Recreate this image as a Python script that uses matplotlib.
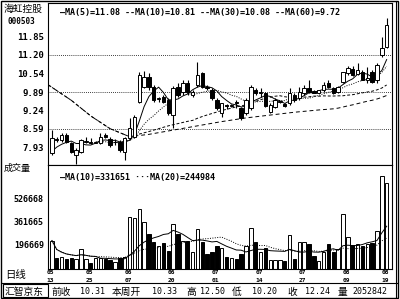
import matplotlib.pyplot as plt
import matplotlib.transforms as mtransforms
from matplotlib.patches import Rectangle
import numpy as np
import pandas as pd

plt.rcParams['font.family'] = ['DejaVu Sans Mono', 'Noto Sans CJK SC']

# daily candles 2011-05-13 .. 2011-08-19
opens = [7.76, 8.23, 8.21, 8.36, 8.11, 7.69, 7.79, 8.13, 8.12, 8.11,
         8.11, 8.36, 8.25, 8.12, 8.14, 7.79, 8.28, 8.32, 9.55, 10.08,
         10.43, 10.08, 9.66, 9.73, 9.62, 9.09, 10.08, 9.90, 10.22, 9.80,
         10.15, 10.57, 10.08, 9.97, 9.62, 9.16, 9.44, 9.41, 9.55, 9.34,
         9.16, 9.34, 9.97, 9.86, 9.87, 9.20, 9.37, 9.54, 9.48, 9.51,
         9.80, 9.69, 9.87, 10.04, 9.94, 9.87, 9.97, 10.22, 10.04, 9.90,
         10.25, 10.57, 10.71, 10.53, 10.60, 10.33, 10.60, 10.33, 11.20, 11.48]
highs = [8.57, 8.32, 8.46, 8.46, 8.14, 7.93, 8.25, 8.32, 8.28, 8.18,
         8.46, 8.46, 8.32, 8.25, 8.21, 8.32, 8.99, 9.09, 10.60, 10.64,
         10.57, 10.15, 9.73, 9.80, 9.69, 10.11, 10.22, 10.32, 10.32, 9.97,
         10.95, 10.60, 10.15, 10.04, 9.69, 9.51, 9.48, 9.48, 9.62, 9.37,
         9.69, 10.15, 10.04, 10.04, 9.90, 9.51, 9.69, 9.58, 9.51, 10.04,
         9.87, 10.08, 10.15, 10.32, 9.97, 9.98, 10.25, 10.32, 10.08, 10.11,
         10.60, 10.81, 10.81, 10.92, 10.67, 10.78, 10.67, 10.92, 11.83, 12.50]
lows = [7.69, 8.14, 8.14, 8.11, 7.76, 7.34, 7.76, 8.11, 8.07, 8.08,
        8.07, 8.28, 7.97, 8.04, 7.79, 7.51, 8.21, 8.28, 9.51, 10.04,
        9.97, 9.55, 9.55, 9.51, 9.09, 8.64, 9.73, 9.80, 9.80, 9.73,
        10.08, 10.04, 9.97, 9.62, 9.27, 9.02, 9.30, 9.37, 9.34, 8.92,
        9.09, 9.27, 9.80, 9.73, 9.37, 9.16, 9.34, 9.52, 9.37, 9.44,
        9.55, 9.62, 9.80, 9.87, 9.85, 9.85, 9.90, 10.04, 9.83, 9.87,
        10.22, 10.50, 10.46, 10.50, 10.36, 10.20, 10.22, 10.20, 11.13, 11.45]
closes = [8.28, 8.21, 8.39, 8.14, 7.79, 7.86, 8.21, 8.15, 8.10, 8.13,
          8.32, 8.32, 8.04, 8.14, 7.86, 8.28, 8.64, 9.02, 10.50, 10.43,
          10.08, 9.62, 9.69, 9.55, 9.16, 10.04, 9.80, 10.22, 9.90, 9.90,
          10.50, 10.08, 10.04, 9.69, 9.34, 9.51, 9.40, 9.43, 9.50, 8.99,
          9.62, 10.08, 9.87, 9.88, 9.41, 9.44, 9.62, 9.56, 9.41, 9.87,
          9.62, 9.90, 10.04, 9.90, 9.87, 9.97, 10.15, 10.08, 9.87, 10.08,
          10.60, 10.74, 10.50, 10.67, 10.31, 10.39, 10.25, 10.85, 11.45, 12.24]
volumes = [225400, 96200, 103400, 89100, 96200, 89100, 160800, 89100, 60400, 96200,
           96200, 89100, 81900, 67500, 96200, 103400, 397500, 390400, 454900, 361700,
           275600, 218200, 182300, 211000, 146400, 347300, 275600, 225400, 225400, 139300,
           311500, 218200, 124900, 139300, 182300, 167900, 103400, 96200, 89100, 124900,
           182300, 318600, 218200, 139300, 167900, 81900, 81900, 81900, 74700, 268400,
           89100, 218200, 218200, 196700, 110600, 74700, 139300, 203800, 139300, 160800,
           419100, 254100, 189500, 203800, 182300, 196700, 211000, 297100, 691700, 641500]

# averages before there are enough bars in view
ma5_head = [7.80, 7.95, 8.05, 8.12]                       # bars 0-3
ma30_head_x = [-0.8, 4, 8, 12, 16, 20, 24, 28]
ma30_head_y = [10.15, 9.60, 9.05, 8.60, 8.32, 8.50, 8.70, 8.86]
ma60_head_x = [-0.8, 4, 8, 12, 16, 20, 25, 30, 35, 40, 45, 50, 55, 58]
ma60_head_y = [10.15, 9.60, 9.05, 8.60, 8.32, 8.40, 8.55, 8.70, 8.85, 8.98, 9.08, 9.18, 9.26, 9.30]

tick_idx = [0, 8, 16, 25, 34, 43, 52, 61, 69]
tick_mon = ['05', '05', '06', '06', '07', '07', '07', '08', '08']
tick_day = ['13', '25', '07', '20', '01', '14', '27', '09', '19']
price_ticks = [7.93, 8.59, 9.24, 9.89, 10.54, 11.20, 11.85]
vol_ticks = [196669, 361665, 526668]

W, H = 400, 299


def box(x0, y0, x1, y1):
    return [x0 / W, 1 - y1 / H, (x1 - x0) / W, (y1 - y0) / H]


fig = plt.figure(figsize=(4, 2.99), dpi=100)
ax = fig.add_axes(box(48, 3, 392, 165))
axv = fig.add_axes(box(48, 165, 392, 269))

x = np.arange(len(closes))
o = np.array(opens)
c = np.array(closes)
up = c >= o

# candles
ax.vlines(x, lows, highs, color='k', lw=0.8, zorder=2)
body = np.maximum(np.abs(c - o), 0.015)
ax.bar(x, body, bottom=np.minimum(o, c), width=0.7,
       color=np.where(up, 'white', 'black'), edgecolor='k', lw=0.7, zorder=3)

# moving averages
close_s = pd.Series(closes)
ma5 = close_s.rolling(5).mean()
ma10 = close_s.rolling(10).mean()
ma30 = close_s.rolling(30).mean()
ma60 = close_s.rolling(60).mean()
ax.plot(x, list(ma5_head) + list(ma5[4:]), color='k', lw=0.7)
ax.plot(x, ma10, color='k', lw=0.7, ls=(0, (1, 1.5)))
ax.plot(ma30_head_x + list(x[29:]), ma30_head_y + list(ma30[29:]), color='k', lw=0.7, ls=(0, (3, 2)))
ax.plot(ma60_head_x + list(x[59:]), ma60_head_y + list(ma60[59:]), color='k', lw=0.7, ls=(0, (4, 3)))

for g in [8.59, 9.89, 11.20]:
    ax.axhline(g, color='k', lw=0.6, ls=(0, (1, 1.5)), zorder=1)

ax.set_xlim(-0.8, 70.1)
ax.set_ylim(7.32, 13.03)
ax.set_yticks(price_ticks)
ax.set_yticklabels(['%.2f' % t for t in price_ticks], fontsize=6.5, fontweight='bold')
ax.set_xticks([])
ax.tick_params(axis='y', length=0, pad=3)

ax.text(0.035, 0.94, '\u2014MA(5)=11.08 --MA(10)=10.81 --MA(30)=10.08 --MA(60)=9.72',
        transform=ax.transAxes, fontsize=6, fontweight='bold', va='center')

# volume
vs = pd.Series(volumes)
axv.bar(x, volumes, width=0.7, color=np.where(up, 'white', 'black'), edgecolor='k', lw=0.7)
axv.plot(x, vs.rolling(10, min_periods=1).mean(), color='k', lw=0.7)
axv.plot(x, vs.rolling(20, min_periods=1).mean(), color='k', lw=0.7, ls=(0, (1, 1.5)))
axv.set_xlim(-0.8, 70.1)
axv.set_ylim(20000, 770000)
axv.set_yticks(vol_ticks)
axv.set_yticklabels([str(v) for v in vol_ticks], fontsize=6, fontweight='bold')
axv.set_xticks([])
axv.tick_params(axis='y', length=0, pad=3)
axv.text(0.035, 0.88, '\u2014MA(10)=331651 \u00b7\u00b7\u00b7MA(20)=244984',
         transform=axv.transAxes, fontsize=6, fontweight='bold', va='center')

# date labels, month over day
tr = mtransforms.blended_transform_factory(axv.transData, fig.transFigure)
for i, m, d in zip(tick_idx, tick_mon, tick_day):
    axv.text(i - 0.3, 1 - 272.5 / H, m, transform=tr, fontsize=4.5, fontweight='bold',
             ha='center', va='center', clip_on=False)
    axv.text(i - 0.3, 1 - 280 / H, d, transform=tr, fontsize=4.5, fontweight='bold',
             ha='center', va='center', clip_on=False)

for a in (ax, axv):
    for s in a.spines.values():
        s.set_linewidth(0.8)

# left captions
fig.text(4 / W, 1 - 9 / H, '海虹控股', fontsize=7, va='center', family='Noto Sans CJK SC')
fig.text(8 / W, 1 - 21 / H, '000503', fontsize=5.5, fontweight='bold', va='center')
fig.text(4 / W, 1 - 168 / H, '成交量', fontsize=6.5, va='center', family='Noto Sans CJK SC')
fig.text(5 / W, 1 - 275 / H, '日线', fontsize=7.5, va='center', family='Noto Sans CJK SC')

# status bar
fig.add_artist(plt.Line2D([2 / W, 397 / W], [1 - 283 / H] * 2, color='k', lw=0.8))
fig.add_artist(Rectangle((3 / W, 1 - 297 / H), 45 / W, 13 / H, fill=False, lw=0.8, transform=fig.transFigure))
fig.text(5 / W, 1 - 291.5 / H, '汇智京东', fontsize=7, va='center', family='Noto Sans CJK SC')
status = [(52, '前收'), (80, '10.31'), (112, '本周开'), (152, '10.33'), (186, '高'), (200, '12.50'),
          (232, '低'), (252, '10.20'), (287, '收'), (305, '12.24'), (338, '量'), (352, '2052842')]
for px, t in status:
    if t[0].isdigit():
        fig.text(px / W, 1 - 291.5 / H, t, fontsize=6, va='center')
    else:
        fig.text(px / W, 1 - 291.5 / H, t, fontsize=7, va='center', family='Noto Sans CJK SC')

# outer frame
fig.add_artist(Rectangle((1 / W, 1 / H), 397 / W, 297 / H, fill=False, lw=1, transform=fig.transFigure))
fig.add_artist(plt.Line2D([396 / W] * 2, [1 / H, 1 - 2 / H], color='k', lw=0.8))

fig.savefig('out.png', dpi=100)
